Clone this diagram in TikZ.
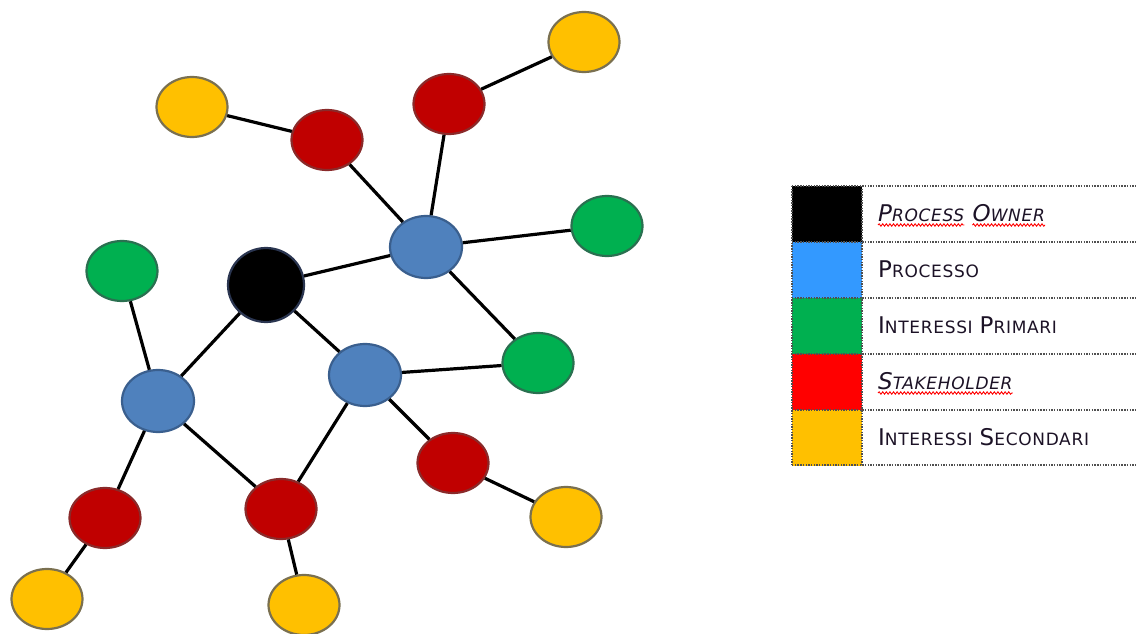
\documentclass[tikz,border=0pt]{standalone}
\usepackage{fontspec}
\setmainfont{DejaVu Sans}
\usetikzlibrary{shapes.geometric,decorations.pathmorphing}

\definecolor{procblue}{HTML}{4F81BD}
\definecolor{procrim}{HTML}{3A5F8E}
\definecolor{primgreen}{HTML}{00B050}
\definecolor{primrim}{HTML}{2A7050}
\definecolor{stakered}{HTML}{C00000}
\definecolor{stakerim}{HTML}{8A2A2A}
\definecolor{secyellow}{HTML}{FFC000}
\definecolor{secrim}{HTML}{7A7050}
\definecolor{ownerrim}{HTML}{2A3550}
\definecolor{swblue}{HTML}{3399FF}
\definecolor{swgreen}{HTML}{00B050}
\definecolor{swred}{HTML}{FF0000}
\definecolor{swyellow}{HTML}{FFC000}
\definecolor{legtext}{HTML}{1C1226}
\definecolor{rule}{HTML}{505050}

% fake small caps: large initial, smaller capitals after it
\newcommand\capsA[2]{{\fontsize{23}{27}\selectfont #1}{\fontsize{17}{20}\selectfont\addfontfeatures{LetterSpace=4}#2}}
\newcommand\capsI[2]{{\itshape\fontsize{23}{27}\selectfont #1}{\itshape\fontsize{17}{20}\selectfont\addfontfeatures{LetterSpace=4}#2}}
\newcommand\wgap{\hspace{7pt}}

\begin{document}
\begin{tikzpicture}[x=1pt,y=-1pt,
  blob/.style={ellipse, inner sep=0pt, minimum width=71pt, minimum height=60pt, line width=2.2pt},
  owner/.style={blob, fill=black, draw=ownerrim, minimum width=76pt, minimum height=74pt},
  proc/.style={blob, fill=procblue, draw=procrim, minimum width=72pt, minimum height=62pt},
  prim/.style={blob, fill=primgreen, draw=primrim},
  stake/.style={blob, fill=stakered, draw=stakerim},
  sec/.style={blob, fill=secyellow, draw=secrim},
  link/.style={line width=3.2pt, black},
  swatch/.style={inner sep=0pt, minimum width=70pt, minimum height=56pt, anchor=north west},
  lbl/.style={inner sep=0pt, anchor=base west, text=legtext},
  dots/.style={rule, line width=1.5pt, dash pattern=on 1.4pt off 1.3pt},
  wavy/.style={red, line width=0.9pt, decorate, decoration={snake, amplitude=1.2pt, segment length=3.6pt}}
]
\useasboundingbox (0,0) rectangle (1136,634);

% ---- network ----
\node[owner] (own) at (266,285) {};
\node[proc]  (pa)  at (426,247) {};
\node[proc]  (pb)  at (365,375) {};
\node[proc]  (pc)  at (158,401) {};
\node[prim]  (ga)  at (607,226) {};
\node[prim]  (gb)  at (538,363) {};
\node[prim]  (gc)  at (122,271) {};
\node[stake] (ra)  at (327,140) {};
\node[stake] (rb)  at (449,104) {};
\node[stake] (rc)  at (453,463) {};
\node[stake] (rd)  at (281,509) {};
\node[stake] (re)  at (105,518) {};
\node[sec]   (ya)  at (192,107) {};
\node[sec]   (yb)  at (584,42)  {};
\node[sec]   (yc)  at (566,517) {};
\node[sec]   (yd)  at (47,599)  {};
\node[sec]   (ye)  at (304,605) {};

\draw[link] (ya) -- (ra);
\draw[link] (ra) -- (pa);
\draw[link] (rb) -- (yb);
\draw[link] (rb) -- (pa);
\draw[link] (pa) -- (ga);
\draw[link] (pa) -- (own);
\draw[link] (pa) -- (gb);
\draw[link] (own) -- (pc);
\draw[link] (own) -- (pb);
\draw[link] (gc) -- (pc);
\draw[link] (pb) -- (gb);
\draw[link] (pb) -- (rc);
\draw[link] (pb) -- (rd);
\draw[link] (pc) -- (re);
\draw[link] (pc) -- (rd);
\draw[link] (rc) -- (yc);
\draw[link] (re) -- (yd);
\draw[link] (rd) -- (ye);

% ---- legend ----
\node[swatch, fill=black]    (s1) at (792,186) {};
\node[swatch, fill=swblue]   (s2) at (792,242) {};
\node[swatch, fill=swgreen]  (s3) at (792,298) {};
\node[swatch, fill=swred]    (s4) at (792,354) {};
\node[swatch, fill=swyellow] (s5) at (792,410) {};

\foreach \yy in {186,242,298,354,410,465}
  \draw[dots] (792,\yy) -- (1136,\yy);
\draw[dots] (792,186) -- (792,465);
\draw[dots] (862,186) -- (862,465);

\node[lbl] (t1a) at (878,221) {\capsI{P}{ROCESS}};
\node[lbl] (t1b) at ([xshift=8pt]t1a.base east) {\capsI{O}{WNER}};
\node[lbl] (t2)  at (878,277) {\capsA{P}{ROCESSO}};
\node[lbl] (t3)  at (878,333) {\capsA{I}{NTERESSI}\wgap\capsA{P}{RIMARI}};
\node[lbl] (t4)  at (878,389) {\capsI{S}{TAKEHOLDER}};
\node[lbl] (t5)  at (878,445) {\capsA{I}{NTERESSI}\wgap\capsA{S}{ECONDARI}};

\draw[wavy] ([yshift=-4pt]t1a.base west) -- ([yshift=-4pt]t1a.base east);
\draw[wavy] ([yshift=-4pt]t1b.base west) -- ([yshift=-4pt]t1b.base east);
\draw[wavy] ([yshift=-4pt]t4.base west) -- ([yshift=-4pt]t4.base east);
\end{tikzpicture}
\end{document}
